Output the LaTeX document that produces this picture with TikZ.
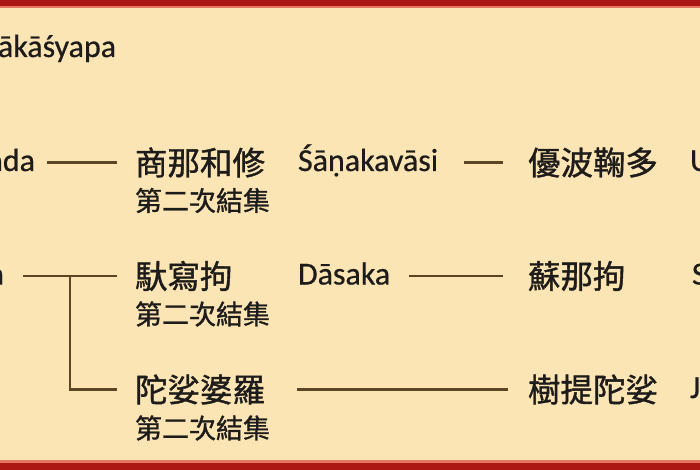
\documentclass[tikz,border=0pt]{standalone}
\usepackage{fontspec}
\setmainfont[FakeBold=0.6]{Carlito}
\newfontfamily\cjk[FakeBold=1.2]{Noto Sans CJK TC}
\usetikzlibrary{positioning}
\definecolor{paper}{RGB}{252,229,181}
\definecolor{frame}{RGB}{172,24,20}
\definecolor{framelight}{RGB}{228,120,98}
\definecolor{link}{RGB}{90,70,34}
\definecolor{ink}{RGB}{30,28,26}

\begin{document}
\begin{tikzpicture}[x=1pt,y=-1pt,line width=2.5pt,draw=link,node distance=38pt,
					every node/.style={inner sep=0pt,outer sep=0pt,text=ink,anchor=west},
					latin/.style={font=\fontsize{32}{32}\selectfont,text height=23pt,text depth=6pt},
					big/.style={font=\cjk\fontsize{32.5}{32.5}\selectfont},
					small/.style={font=\cjk\fontsize{27}{27}\selectfont}]
					\useasboundingbox (0,0) rectangle (700,470);
					\fill[paper] (0,0) rectangle (700,470);
					\fill[frame] (0,0) rectangle (700,6);
					\fill[framelight] (0,6) rectangle (700,8);
					\fill[framelight] (0,459.5) rectangle (700,463);
					\fill[frame] (0,463) rectangle (700,470);
					\clip (0,8) rectangle (700,459.5);
					
					\node[latin]              (kasyapa)  at (-2,48.5)   {ākāśyapa};
					\node[latin,anchor=east]  (ananda)   at (35,162.5)  {nda};
					\node[latin,anchor=east]  (rowtwo)   at (4,276)     {a};
					
					\node[big]                (shana)    at (135,162.5) {商那和修};
					\node[small]              (shanasub) [below=38pt of shana.west,anchor=west]  {第二次結集};
					\node[big]                (dasa)     at (135,276)   {馱寫拘};
					\node[small]              (dasasub)  [below=38pt of dasa.west,anchor=west]   {第二次結集};
					\node[big]                (bhadra)   at (135,389.5) {陀娑婆羅};
					\node[small]              (bhadrasub) [below=38.5pt of bhadra.west,anchor=west] {第二次結集};
					
					\node[latin]              (shanaskt) at (298,162.5) {Śāṇakavāsi};
					\node[latin]              (dasaskt)  at (298,276)   {Dāsaka};
					
					\node[big]                (upa)      at (528,162.5) {優波鞠多};
					\node[big]                (sona)     at (528,276)   {蘇那拘};
					\node[big]                (jyoti)    at (528,389.5) {樹提陀娑};
					
					\node[latin]              (upaskt)   at (690,162.5) {U};
					\node[latin]              (sonaskt)  at (692,276)   {S};
					\node[latin]              (jyotiskt) at (690,389.5) {J};
					
					\coordinate (fork) at (70,276);
					
					\path (ananda)   edge[shorten <=12pt,shorten >=18pt] (shana)
					(rowtwo)   edge[shorten <=19pt,shorten >=18pt] (dasa)
					(shanaskt) edge[shorten <=26pt,shorten >=25pt] (upa)
					(dasaskt)  edge[shorten <=19pt,shorten >=25pt] (sona)
					(bhadra)   edge[shorten <=32pt,shorten >=20pt] (jyoti);
					\draw[shorten >=18pt] (fork) |- (bhadra);
\end{tikzpicture}
\end{document}
